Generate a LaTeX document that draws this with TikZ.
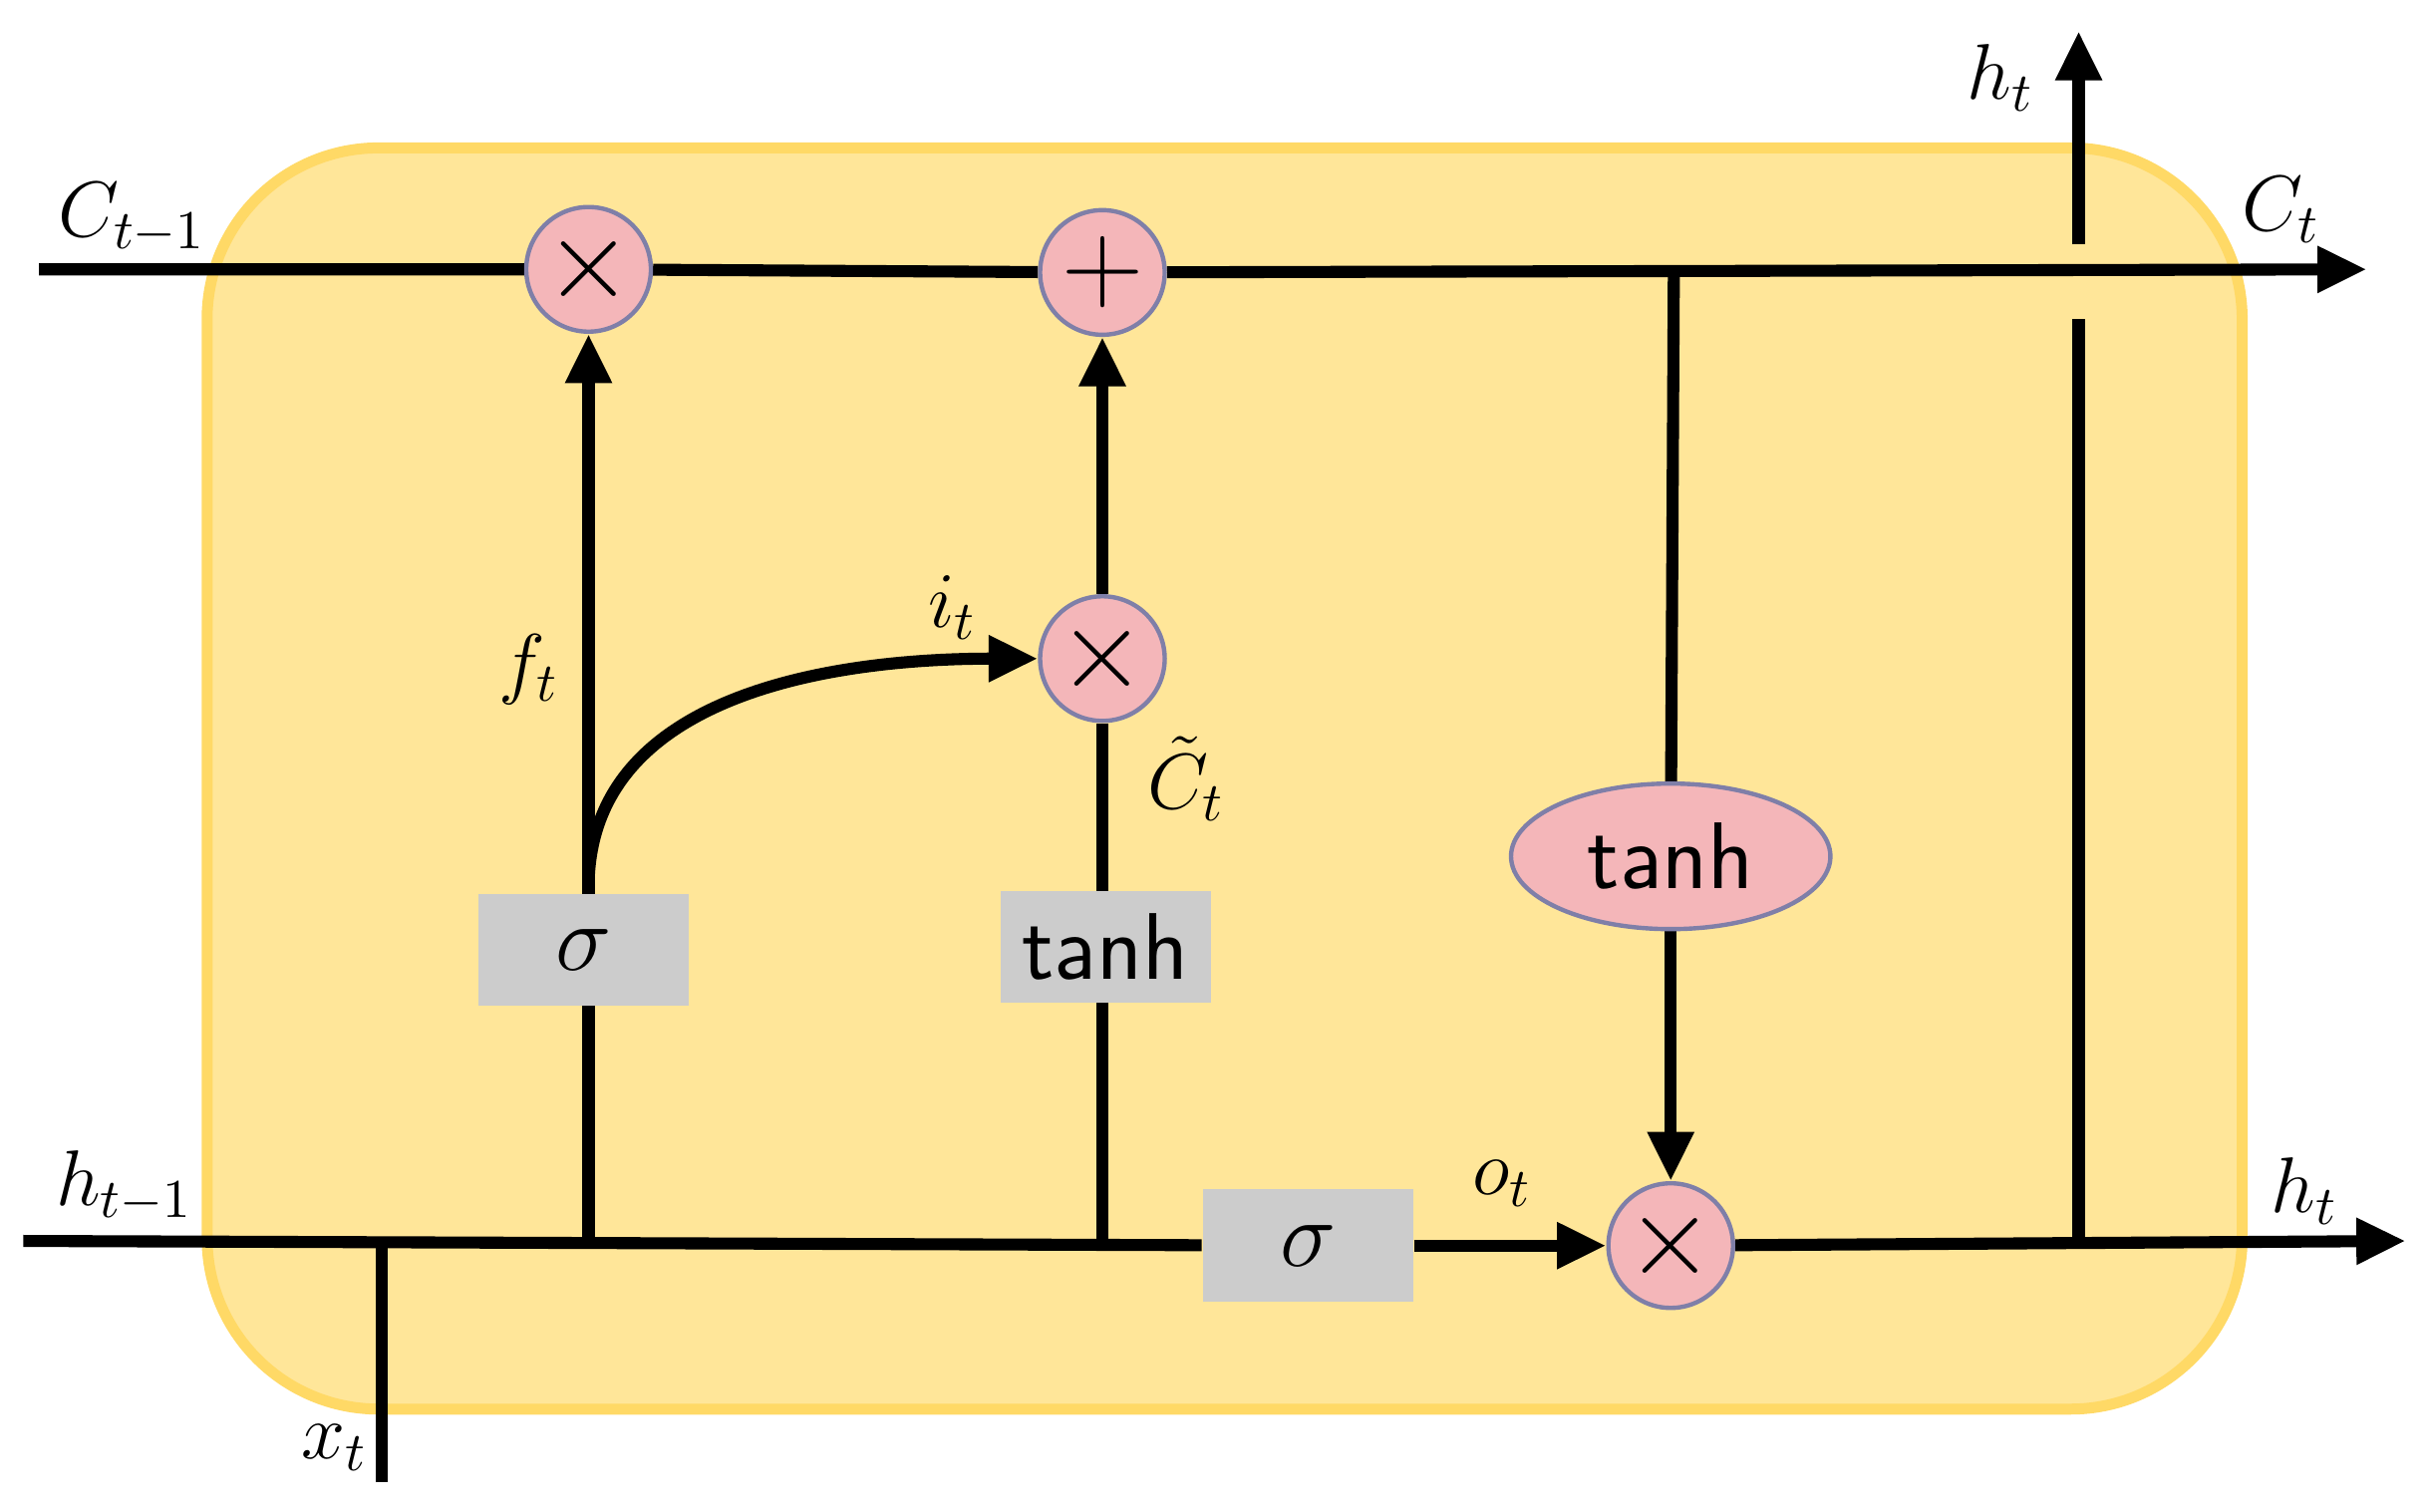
\documentclass[tikz,border=0pt]{standalone}
\usepackage{amsmath}
\usetikzlibrary{arrows.meta,shapes.geometric,backgrounds}
\definecolor{cellfill}{HTML}{FFE699}
\definecolor{celldraw}{HTML}{FFD966}
\definecolor{opfill}{HTML}{F4B6B9}
\definecolor{opdraw}{HTML}{7F7FA8}
\definecolor{gatefill}{HTML}{CCCCCC}
\pgfdeclarelayer{cell}
\pgfsetlayers{cell,background,main}
\begin{document}
\begin{tikzpicture}[x=0.01cm,y=-0.01cm,
                >={Triangle[length=9pt,width=8pt]},
                wire/.style = {line width=2.2pt},
                op/.style = {circle, draw=opdraw, line width=0.8pt, fill=opfill, minimum size=0.8cm, inner sep=0pt, font=\huge},
                gate/.style = {fill=gatefill, minimum width=1.35cm, minimum height=0.72cm, inner sep=0pt, font=\sffamily\LARGE},
                lbl/.style = {font=\Large}
                    ]
                \useasboundingbox (0,0) rectangle (1560,971);
                \begin{pgfonlayer}{cell}
                \draw[fill=cellfill, draw=celldraw, line width=2pt, rounded corners=1.1cm] (133,95) rectangle (1440,905);
                \end{pgfonlayer}
                % nodes
                \node[op] (f) at (378,173) {$\times$};
                \node[op] (add) at (708,175) {$+$};
                \node[op] (i) at (708,423) {$\times$};
                \node[op] (o) at (1073,800) {$\times$};
                \node[gate] (sf) at (375,610) {$\sigma$};
                \node[gate] (tc) at (710,608) {tanh};
                \node[gate] (so) at (840,800) {$\sigma$};
                \node[ellipse, fill=opfill, draw=opdraw, line width=0.8pt, minimum width=2.05cm, minimum height=0.8cm, font=\sffamily\LARGE] (th) at (1073,550) {tanh};
                \coordinate (cin) at (25,173);
                \coordinate (cout) at (1520,173);
                \coordinate (hin) at (15,797);
                \coordinate (hout) at (1545,797);
                \coordinate (xin) at (245,952);
                \coordinate (xj) at (245,797);
                \coordinate (fj) at (378,797);
                \coordinate (cj) at (708,797);
                \coordinate (sj) at (378,570);
                \coordinate (oj) at (1075,173);
                \coordinate (hj) at (1335,797);
                \coordinate (hgap1) at (1335,205);
                \coordinate (hgap2) at (1335,157);
                \coordinate (htop) at (1335,20);
                \begin{pgfonlayer}{background}
                \begin{scope}[wire]
                % cell state
                \draw (cin) -- (f) -- (add);
                \draw[->] (add) -- (cout);
                % hidden state
                \draw (hin) -- (so);
                \draw[->] (so) -- (o);
                \draw[->] (o) -- (hout);
                \draw (xin) -- (xj);
                % gates
                \draw[->] (fj) -- (f);
                \draw[->] (sj) to[out=90,in=180] (i);
                \draw (cj) -- (i);
                \draw[->] (i) -- (add);
                \draw (oj) -- (th);
                \draw[->] (th) -- (o);
                \draw (hj) -- (hgap1);
                \draw[->] (hgap2) -- (htop);
                \end{scope}
                \end{pgfonlayer}
                % labels
                \node[lbl] at (85,140) {$C_{t-1}$};
                \node[lbl] at (1465,135) {$C_t$};
                \node[lbl] at (1285,50) {$h_t$};
                \node[lbl] at (80,762) {$h_{t-1}$};
                \node[lbl] at (1480,765) {$h_t$};
                \node[lbl] at (215,930) {$x_t$};
                \node[lbl] at (340,430) {$f_t$};
                \node[lbl] at (612,390) {$i_t$};
                \node[lbl] at (762,500) {$\tilde{C}_t$};
                \node[lbl] at (965,760) {$o_t$};
            \end{tikzpicture}
\end{document}
